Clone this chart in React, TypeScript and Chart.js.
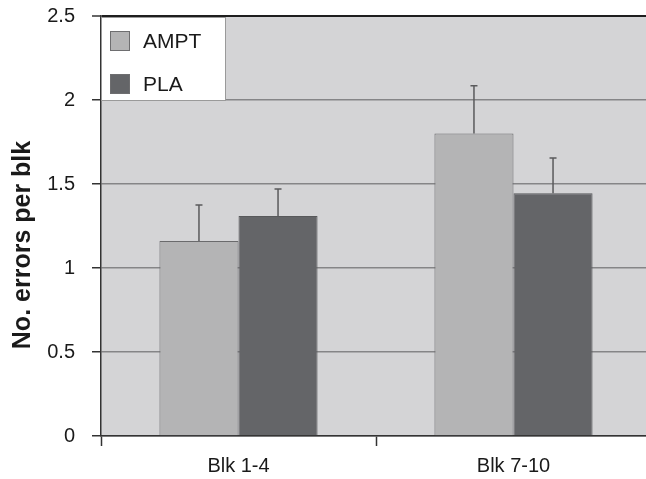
import React, { useEffect, useRef } from "react";
import { Chart, registerables } from "chart.js";

Chart.register(...registerables);

const categories = ["Blk 1-4", "Blk 7-10"];
const seriesNames = ["AMPT", "PLA"];
const amptValues = [1.16, 1.8];
const amptErrorTop = [1.375, 2.085];
const plaValues = [1.31, 1.445];
const plaErrorTop = [1.47, 1.655];
const yTickValues = [0, 0.5, 1, 1.5, 2, 2.5];
const yAxisTitle = "No. errors per blk";

const FONT = "'Liberation Sans', Arial, Helvetica, sans-serif";
const AMPT_COLOR = "#b4b4b5";
const PLA_COLOR = "#646568";
const PLOT_BG = "#d4d4d6";

export default function App() {
  const canvasRef = useRef<HTMLCanvasElement | null>(null);

  useEffect(() => {
    const canvas = canvasRef.current;
    if (!canvas) return;

    const bgPlugin = {
      id: "plotBg",
      beforeDraw(chart: any) {
        const { ctx, chartArea } = chart;
        ctx.save();
        ctx.fillStyle = PLOT_BG;
        ctx.fillRect(chartArea.left, chartArea.top, chartArea.right - chartArea.left, chartArea.bottom - chartArea.top);
        ctx.restore();
      },
    };

    const errorPlugin = {
      id: "errorBars",
      afterDatasetsDraw(chart: any) {
        const { ctx } = chart;
        const yScale = chart.scales.y;
        chart.data.datasets.forEach((ds: any, i: number) => {
          const meta = chart.getDatasetMeta(i);
          meta.data.forEach((bar: any, j: number) => {
            const top = yScale.getPixelForValue(ds.errorTop[j]);
            ctx.save();
            ctx.strokeStyle = "#5a5a5c";
            ctx.lineWidth = 1.5;
            ctx.beginPath();
            ctx.moveTo(bar.x, bar.y);
            ctx.lineTo(bar.x, top);
            ctx.moveTo(bar.x - 3.5, top);
            ctx.lineTo(bar.x + 3.5, top);
            ctx.stroke();
            ctx.restore();
          });
        });
      },
    };

    const legendPlugin = {
      id: "insideLegend",
      afterDatasetsDraw(chart: any) {
        const { ctx, chartArea } = chart;
        const x0 = chartArea.left;
        const y0 = chartArea.top + 1;
        const w = 125;
        const h = 84;
        ctx.save();
        ctx.fillStyle = "#ffffff";
        ctx.fillRect(x0, y0, w, h);
        ctx.strokeStyle = "#9a9a9a";
        ctx.lineWidth = 1;
        ctx.strokeRect(x0 + 0.5, y0 + 0.5, w - 1, h - 1);
        chart.data.datasets.forEach((ds: any, i: number) => {
          const sy = y0 + 14 + i * 43;
          ctx.fillStyle = ds.backgroundColor;
          ctx.fillRect(x0 + 9, sy, 20, 20);
          ctx.strokeStyle = "#6e6e70";
          ctx.lineWidth = 1;
          ctx.strokeRect(x0 + 9.5, sy + 0.5, 19, 19);
          ctx.fillStyle = "#1a1a1a";
          ctx.font = `21px ${FONT}`;
          ctx.textAlign = "left";
          ctx.textBaseline = "middle";
          ctx.fillText(ds.label, x0 + 42, sy + 11);
        });
        ctx.restore();
      },
    };

    const titlePlugin = {
      id: "yTitle",
      afterDraw(chart: any) {
        const { ctx } = chart;
        ctx.save();
        ctx.translate(23, 245);
        ctx.rotate(-Math.PI / 2);
        ctx.font = `bold 25px ${FONT}`;
        ctx.fillStyle = "#1a1a1a";
        ctx.textAlign = "center";
        ctx.textBaseline = "middle";
        ctx.fillText(yAxisTitle, 0, 0);
        ctx.restore();
      },
    };

    const chart = new Chart(canvas, {
      type: "bar",
      data: {
        labels: categories,
        datasets: [
          {
            label: seriesNames[0],
            data: amptValues,
            errorTop: amptErrorTop,
            backgroundColor: AMPT_COLOR,
            borderColor: "#6a6a6c",
            borderWidth: 1,
            barPercentage: 1,
            categoryPercentage: 0.575,
          } as any,
          {
            label: seriesNames[1],
            data: plaValues,
            errorTop: plaErrorTop,
            backgroundColor: PLA_COLOR,
            borderColor: "#58595b",
            borderWidth: 1,
            barPercentage: 1,
            categoryPercentage: 0.575,
          } as any,
        ],
      },
      options: {
        responsive: false,
        animation: false,
        devicePixelRatio: 1,
        layout: { padding: { left: 0, top: 16, right: 9, bottom: 0 } },
        plugins: {
          legend: { display: false },
          tooltip: { enabled: false },
        },
        scales: {
          x: {
            grid: {
              offset: true,
              drawOnChartArea: false,
              drawTicks: true,
              tickLength: 10,
              tickColor: "#333333",
              tickWidth: 1.5,
            },
            border: { display: true, color: "#333333", width: 1.5 },
            ticks: {
              color: "#1a1a1a",
              font: { family: FONT, size: 20 },
              padding: 8,
            },
            afterFit(scale: any) {
              scale.height = 43;
              scale.paddingLeft = 0;
              scale.paddingRight = 0;
            },
          },
          y: {
            min: 0,
            max: 2.5,
            afterBuildTicks(scale: any) {
              scale.ticks = yTickValues.map((v) => ({ value: v }));
            },
            grid: {
              color: (ctx: any) => (ctx.tick && ctx.tick.value === 2.5 ? "#1e1e1e" : "#858587"),
              lineWidth: (ctx: any) => (ctx.tick && ctx.tick.value === 2.5 ? 2 : 1.5),
              drawTicks: true,
              tickLength: 9,
              tickColor: "#333333",
              tickWidth: 1.5,
            },
            border: { display: true, color: "#333333", width: 1.5 },
            ticks: {
              color: "#1a1a1a",
              font: { family: FONT, size: 20 },
              padding: 17,
              callback: (v: any) => String(v),
            },
            afterFit(scale: any) {
              scale.width = 101;
              scale.paddingTop = 0;
              scale.paddingBottom = 0;
            },
          },
        },
      },
      plugins: [bgPlugin, errorPlugin, legendPlugin, titlePlugin],
    });

    return () => chart.destroy();
  }, []);

  return (
    <div style={{ position: "fixed", left: 0, top: 0, width: 660, height: 479, overflow: "hidden", background: "#ffffff" }}>
      <canvas ref={canvasRef} width={660} height={479} style={{ width: 660, height: 479, display: "block" }} />
    </div>
  );
}
